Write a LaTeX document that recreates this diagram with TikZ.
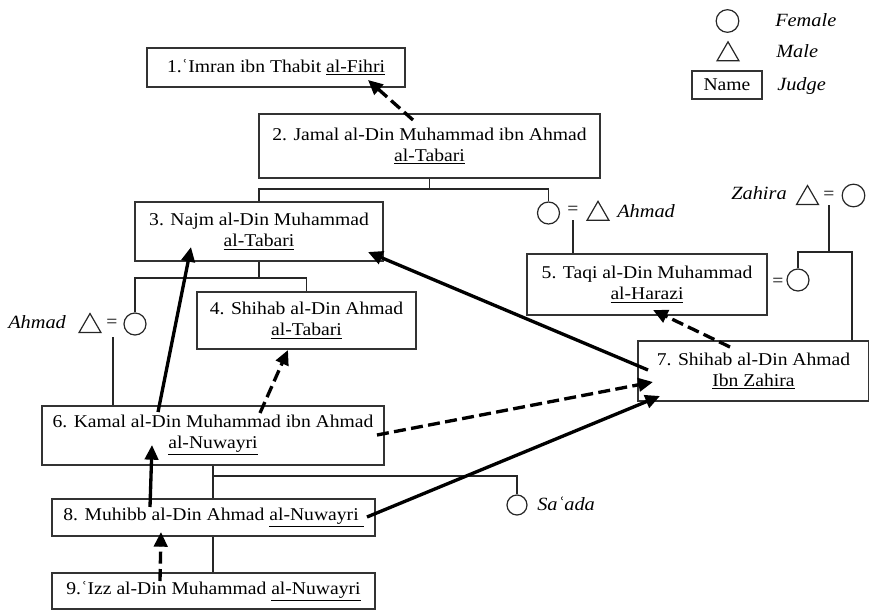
\documentclass[tikz,border=0pt]{standalone}
\usepackage{fontspec}
\setmainfont[FakeStretch=1.09]{Liberation Serif}
\usetikzlibrary{shapes.geometric,arrows.meta,calc}
\begin{document}
\begin{tikzpicture}[x=0.75pt,y=-0.75pt,
 judge/.style={draw=black!80, line width=0.9pt, inner sep=0pt, align=center, font=\fontsize{13.5}{15.75}\selectfont},
 fem/.style={circle, draw=black!85, line width=0.9pt, minimum size=16.5pt, inner sep=0pt},
 mal/.style={regular polygon, regular polygon sides=3, draw=black!85, line width=0.9pt, minimum size=19pt, inner sep=0pt},
 lbl/.style={font=\fontsize{14}{16}\selectfont\itshape, inner sep=0pt},
 eqs/.style={font=\fontsize{13.5}{15}\selectfont, inner sep=0pt, anchor=base},
 kin/.style={draw=black!85, line width=0.8pt},
 arr/.style={line width=2.5pt, -{Triangle[length=11pt,width=10pt]}},
 darr/.style={arr, dash pattern=on 9pt off 4pt},
]
\useasboundingbox (0,0) rectangle (869,611);
% judges
\node[judge, minimum width=193.5pt, minimum height=29.25pt] (b1) at (276,67.5) {1.ʿImran ibn Thabit \underline{al-Fihri}};
\node[judge, minimum width=255.75pt, minimum height=48pt] (b2) at (429.5,146) {2. Jamal al-Din Muhammad ibn Ahmad\\ \underline{al-Tabari}};
\node[judge, minimum width=186pt, minimum height=44.25pt] (b3) at (259,231.5) {3. Najm al-Din Muhammad\\ \underline{al-Tabari}};
\node[judge, minimum width=164.25pt, minimum height=42.75pt] (b4) at (306.5,320.5) {4. Shihab al-Din Ahmad\\ \underline{al-Tabari}};
\node[judge, minimum width=180pt, minimum height=45.75pt] (b5) at (647,284.5) {5. Taqi al-Din Muhammad\\ \underline{al-Harazi}};
\node[judge, minimum width=256.5pt, minimum height=44.25pt] (b6) at (213,435.5) {6. Kamal al-Din Muhammad ibn Ahmad\\ \underline{al-Nuwayri}};
\node[judge, minimum width=173.25pt, minimum height=45pt] (b7) at (753.5,371) {7. Shihab al-Din Ahmad\\ \underline{Ibn Zahira}};
\node[judge, minimum width=242.25pt, minimum height=27.75pt] (b8) at (213.5,517.5) {8. Muhibb al-Din Ahmad \underline{al-Nuwayri\ }};
\node[judge, minimum width=242.25pt, minimum height=27pt] (b9) at (213.5,591) {9.ʿIzz al-Din Muhammad \underline{al-Nuwayri}};
% legend
\node[fem, minimum size=17pt] (lf) at (727.5,21) {};
\node[lbl, anchor=base west] (lft) at (775,26) {Female};
\node[mal] (lm) at (728,54.5) {};
\node[lbl, anchor=base west] (lmt) at (776,57) {Male};
\node[judge, minimum width=52.5pt, minimum height=21pt] (ln) at (727,85) {Name};
\node[lbl, anchor=base west] (lnt) at (777,90) {Judge};
% spouses and kin symbols
\node[fem] (c1) at (548.5,213) {};
\node[eqs] (e1) at (573,214) {=};
\node[mal] (t1) at (598,214) {};
\node[lbl, anchor=base west] (n1) at (617,217) {Ahmad};
\node[eqs] (e2) at (778,286) {=};
\node[fem] (c2) at (798,280) {};
\node[lbl, anchor=base east] (n2) at (787,199) {Zahira};
\node[mal] (t2) at (807.5,198.2) {};
\node[eqs] (e3) at (829,199) {=};
\node[fem, minimum size=17pt] (c3) at (853.5,195.5) {};
\node[lbl, anchor=base west] (n3) at (8,328) {Ahmad};
\node[mal] (t3) at (90,326.2) {};
\node[eqs] (e4) at (112,327) {=};
\node[fem] (c4) at (135,324) {};
\node[fem, minimum size=15pt] (c5) at (517,505) {};
\node[lbl, anchor=base west] (n5) at (537,510) {Saʿada};
% kinship lines
\coordinate (j1) at (429.5,189);
\draw[kin] (b2.south) -- (j1);
\draw[kin] (b3.north) -- (b3.north |- j1) -- (c1.north |- j1) -- (c1.north);
\coordinate (e1d) at (573,220);
\draw[kin] (e1d) -- (e1d |- b5.north);
\coordinate (j2) at (829,252);
\coordinate (j2e) at (852,252);
\coordinate (e3d) at (829,205);
\draw[kin] (c2.north) -- (c2.north |- j2) -- (j2e) -- (j2e |- b7.north);
\draw[kin] (e3d) -- (j2);
\coordinate (j3) at (259,278);
\draw[kin] (b3.south) -- (j3);
\draw[kin] (c4.north) -- (c4.north |- j3) -- (b4.north |- j3) -- (b4.north);
\coordinate (e4d) at (113,337);
\draw[kin] (e4d) -- (e4d |- b6.north);
\draw[kin] (b6.south) -- (b6.south |- b8.north);
\coordinate (j6) at (213,476);
\draw[kin] (j6) -- (c5.north |- j6) -- (c5.north);
\draw[kin] (b8.south -| b6.south) -- (b9.north -| b6.south);
% transmission arrows
\coordinate (a1s) at (413,120); \coordinate (a1e) at (368,80);
\coordinate (a2s) at (730,347); \coordinate (a2e) at (653,310);
\coordinate (a3s) at (648,370); \coordinate (a3e) at (368,252);
\coordinate (a4s) at (377,435); \coordinate (a4e) at (653,382);
\coordinate (a5s) at (367,517); \coordinate (a5e) at (660,396);
\coordinate (a6s) at (158,412); \coordinate (a6e) at (191,247);
\coordinate (a7s) at (260,413); \coordinate (a7e) at (288,350);
\coordinate (a8s) at (150,507); \coordinate (a8e) at (152,445);
\coordinate (a9s) at (160,581); \coordinate (a9e) at (161,532);
\draw[darr] (a1s) -- (a1e);
\draw[darr] (a2s) -- (a2e);
\draw[arr] (a3s) -- (a3e);
\draw[darr] (a4s) -- (a4e);
\draw[arr] (a5s) -- (a5e);
\draw[arr] (a6s) -- (a6e);
\draw[darr] (a7s) -- (a7e);
\draw[arr] (a8s) -- (a8e);
\draw[darr] (a9s) -- (a9e);
\end{tikzpicture}
\end{document}
